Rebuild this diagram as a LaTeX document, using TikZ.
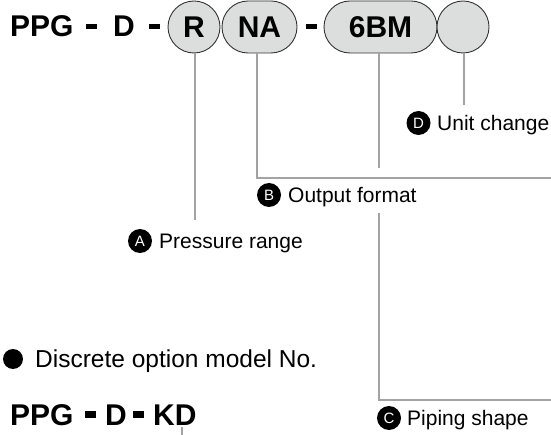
\documentclass[tikz,border=0pt]{standalone}
\usepackage{fontspec}
\setmainfont{Liberation Sans}
\usetikzlibrary{calc}
\definecolor{pillfill}{HTML}{DCDDDD}
\definecolor{pilldraw}{HTML}{333333}
\definecolor{leadgray}{HTML}{A3A3A3}
\tikzset{
  big/.style={font=\fontsize{30}{34}\selectfont\bfseries, inner sep=0pt},
  pill/.style={draw=pilldraw, fill=pillfill, line width=0.9pt, rounded corners=26pt,
    minimum height=52pt, inner sep=0pt, font=\fontsize{30}{34}\selectfont\bfseries,
    text height=21.5pt, text depth=0pt},
  roundpill/.style={draw=pilldraw, fill=pillfill, line width=0.9pt, circle,
    minimum size=52pt, inner sep=0pt, font=\fontsize{30}{34}\selectfont\bfseries,
    text height=21.5pt, text depth=0pt},
  dashbar/.style={fill=black, draw=none},
  lead/.style={draw=leadgray, line width=1.8pt},
  badge/.style={circle, fill=black, text=white, inner sep=0pt, minimum size=24pt,
    font=\fontsize{15}{15}\selectfont, text height=10.7pt, text depth=0pt},
  lbl/.style={anchor=base west, inner sep=0pt, font=\fontsize{21}{25}\selectfont},
}
\begin{document}
\begin{tikzpicture}[x=1pt,y=-1pt]
\useasboundingbox (0,0) rectangle (551,435);
% top code
\node[big, anchor=base west] (ppg) at (10,37) {PPG};
\fill[dashbar] (86,24) rectangle (97,29);
\node[big, anchor=base west] (d) at (113,37) {D};
\fill[dashbar] (149,24) rectangle (160,29);
\node[roundpill] (r) at (194,27) {R};
\node[pill, minimum width=75pt] (na) at (259.5,27) {NA};
\fill[dashbar] (306,24) rectangle (317,29);
\node[pill, minimum width=113pt] (bm) at (380.5,27) {6BM};
\node[roundpill] (u) at (463,27) {};
% labels
\node[badge] (ba) at (140,241) {A};
\node[lbl] (ta) at (159,248.5) {Pressure range};
\node[badge] (bb) at (269,195) {B};
\node[lbl] (tb) at (288,202.5) {Output format};
\node[badge] (bc) at (389,418) {C};
\node[lbl] (tc) at (407,425.5) {Piping shape};
\node[badge] (bd) at (418.5,123) {D};
\node[lbl] (td) at (437,130.5) {Unit change};
% leader coordinates
\coordinate (rend) at (195,220);
\coordinate (nacorner) at (257,178);
\coordinate (naend) at (551,178);
\coordinate (bmend) at (379,168);
\coordinate (cstart) at (379,213);
\coordinate (ccorner) at (379,400);
\coordinate (cend) at (551,400);
\coordinate (uend) at (464,105);
% leaders
\draw[lead] (r.south -| rend) -- (rend);
\draw[lead] (na.south -| nacorner) -- (nacorner) -- (naend);
\draw[lead] (bm.south -| bmend) -- (bmend);
\draw[lead] (cstart) -- (ccorner) -- (cend);
\draw[lead] (u.south -| uend) -- (uend);
% discrete option
\fill[black] (13,359) circle (10pt) coordinate (bullet);
\node[anchor=base west, inner sep=0pt, font=\fontsize{24.5}{28}\selectfont] (disc) at (35,367) {Discrete option model No.};
\node[big, anchor=base west] (ppg2) at (10,425) {PPG};
\fill[dashbar] (85,411) rectangle (96,418);
\node[big, anchor=base west] (d2) at (105,425) {D};
\fill[dashbar] (133,411) rectangle (144,418);
\node[big, anchor=base west] (kd) at (153,425) {KD};
\coordinate (kdend) at (182,435);
\draw[lead] (182,427) -- (kdend);
\end{tikzpicture}
\end{document}
